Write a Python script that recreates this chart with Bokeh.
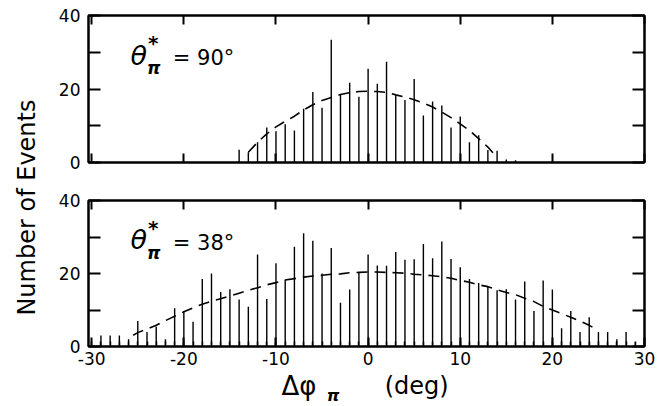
import numpy as np
from bokeh.plotting import figure
from bokeh.layouts import row, column
from bokeh.models import Label, FixedTicker, LinearAxis
from bokeh.embed import file_html
from bokeh.resources import INLINE

# ---------------- data ----------------
angles_90 = list(range(-14, 17))
counts_90 = [3.5, 2.8, 5.5, 9.5, 8.5, 10.4, 8.7, 14.6, 19.2, 14.9, 33.4, 18.5, 21.7, 17.9,
             25.5, 21.4, 27.4, 18.2, 17.0, 22.7, 12.8, 16.6, 15.5, 9.5, 12.5, 5.5, 7.4,
             3.4, 3.2, 0.8, 0.6]
fit_x_90 = [-13, -12, -11, -10, -9, -8, -7, -6, -5, -4, -3, -2, -1, 0, 1, 2, 3, 4, 5, 6,
            7, 8, 9, 10, 11, 12, 13, 14]
fit_y_90 = [2.8, 5.5, 7.8, 9.7, 11.2, 12.6, 14.3, 15.7, 16.9, 17.7, 18.5, 19.0, 19.3, 19.4,
            19.3, 19.1, 18.4, 17.8, 17.1, 16.2, 15.1, 13.7, 12.2, 10.5, 8.7, 6.5, 4.2, 1.4]

angles_38 = list(range(-29, 30))
counts_38 = [3, 3, 3, 2, 7, 4, 5.5, 2, 10.5, 9.7, 6.8, 18.5, 20, 14.9, 15.7, 12.9, 10.9,
             25.2, 13, 22.8, 18.3, 27.3, 31, 29, 20, 27, 12, 15.6, 20.4, 25.2, 22.2, 22.1,
             25.9, 23.8, 23.9, 28.1, 24.2, 28.8, 24, 21.7, 18.5, 17.4, 16.4, 15.4, 15.7,
             12.9, 17.8, 9.7, 18.1, 15.6, 5, 9.7, 4, 8, 4, 4, 2, 4, 1.2]
fit_x_38 = [-25.5, -25, -24, -23, -22, -21, -20, -19, -18, -17, -16, -15, -14, -13, -12,
            -11, -10, -9, -8, -7, -6, -5, -4, -3, -2, -1, 0, 1, 2, 3, 4, 5, 6, 7, 8, 9,
            10, 11, 12, 13, 14, 15, 16, 17, 18, 19, 20, 21, 22, 23, 24, 24.5]
fit_y_38 = [3.1, 3.8, 4.8, 5.8, 7.1, 8.3, 9.5, 10.6, 11.6, 12.4, 13.1, 13.8, 14.6, 15.4,
            16.1, 16.9, 17.5, 18.2, 18.6, 19.0, 19.3, 19.5, 19.8, 19.9, 20.2, 20.3, 20.4,
            20.4, 20.3, 20.2, 20.1, 19.8, 19.6, 19.4, 19.1, 18.7, 18.1, 17.6, 16.9, 16.4,
            15.5, 14.8, 14.2, 13.2, 12.3, 11.0, 10.0, 9.0, 8.0, 7.0, 5.8, 5.1]

x_ticks = [-30, -20, -10, 0, 10, 20, 30]
x_minor = list(range(-30, 31))
y_ticks = [0, 10, 20, 30, 40]
y_tick_labels = {0: "0", 10: "", 20: "20", 30: "", 40: "40"}

FONT = "DejaVu Sans"
X_RANGE = (-30.35, 30.0)
PW = 620          # panel canvas width
BL, BR = 44, 20   # left / right borders of the panels


def blank(ticks):
    return {t: "" for t in ticks}


def style_axis(ax, ticks, tick_len, labels=None):
    ax.ticker = FixedTicker(ticks=ticks)
    ax.major_tick_in = tick_len
    ax.major_tick_out = 0
    ax.minor_tick_in = 0
    ax.minor_tick_out = 0
    ax.axis_line_width = 2
    ax.axis_line_color = "black"
    ax.major_tick_line_width = 2
    ax.major_label_text_font = FONT
    ax.major_label_text_font_size = "17px"
    ax.major_label_text_color = "black"
    ax.major_label_overrides = labels if labels is not None else blank(ticks)


def panel(height, top, bottom, angles, counts, fx, fy, bottom_panel):
    p = figure(width=PW, height=height, x_range=X_RANGE, y_range=(0, 40),
               output_backend="svg", toolbar_location=None,
               min_border_left=BL, min_border_right=BR,
               min_border_top=top, min_border_bottom=bottom)
    above = LinearAxis()
    right = LinearAxis()
    p.add_layout(above, "above")
    p.add_layout(right, "right")
    style_axis(above, x_ticks, 9)
    style_axis(right, y_ticks, 12)
    style_axis(p.left[0], y_ticks, 12, y_tick_labels)
    p.left[0].major_label_standoff = 8
    below = p.below[0]
    if bottom_panel:
        style_axis(below, x_ticks, 9, {t: str(t) for t in x_ticks})
        below.ticker = FixedTicker(ticks=x_ticks, minor_ticks=x_minor)
        below.minor_tick_in = 5
        below.minor_tick_out = 0
        below.minor_tick_line_width = 1.5
        below.minor_tick_line_color = "black"
        below.major_label_standoff = 5
    else:
        style_axis(below, x_ticks, 9)
    p.outline_line_color = "black"
    p.outline_line_width = 2
    p.grid.visible = False
    p.segment(x0=angles, y0=[0] * len(angles), x1=angles, y1=counts,
              line_color="black", line_width=1.4)
    p.line(fx, fy, line_color="black", line_width=1.6, line_dash="11 7")
    return p


p1 = panel(183, 15, 21, angles_90, counts_90, fit_x_90, fit_y_90, False)
p2 = panel(185, 17, 22, angles_38, counts_38, fit_x_38, fit_y_38, True)


def theta_label(p, x, y, deg_text):
    p.add_layout(Label(x=x, y=y, text="θ", text_font=FONT, text_font_style="italic",
                       text_font_size="27px", text_baseline="middle", text_color="black"))
    p.add_layout(Label(x=x + 1.9, y=y + 3.3, text="*", text_font=FONT,
                       text_font_style="bold", text_font_size="20px",
                       text_baseline="middle", text_color="black"))
    p.add_layout(Label(x=x + 1.8, y=y - 3.6, text="π", text_font=FONT,
                       text_font_style="bold italic", text_font_size="17px",
                       text_baseline="middle", text_color="black"))
    p.add_layout(Label(x=x + 4.6, y=y - 0.9, text=deg_text, text_font=FONT,
                       text_font_size="21px", text_baseline="middle", text_color="black"))


theta_label(p1, -25.8, 29.2, "= 90°")
theta_label(p2, -25.8, 29.3, "= 38°")

# x axis title (its own strip under the lower panel)
xlab = figure(width=PW, height=38, x_range=X_RANGE, y_range=(0, 1),
              x_axis_type=None, y_axis_type=None,
              output_backend="svg", toolbar_location=None,
              min_border_left=BL, min_border_right=BR, min_border_top=0, min_border_bottom=0)
xlab.grid.visible = False
xlab.outline_line_color = None
xlab.add_layout(Label(x=-9.4, y=0.55, text="Δφ", text_font=FONT, text_font_size="26px",
                      text_baseline="middle", text_color="black"))
xlab.add_layout(Label(x=-4.5, y=0.3, text="π", text_font=FONT,
                      text_font_style="bold italic", text_font_size="16px",
                      text_baseline="middle", text_color="black"))
xlab.add_layout(Label(x=1.8, y=0.55, text="(deg)", text_font=FONT, text_font_size="24px",
                      text_baseline="middle", text_color="black"))

# y axis title, spanning both panels
ylab = figure(width=44, height=406, x_range=(0, 1), y_range=(0, 1),
              x_axis_type=None, y_axis_type=None,
              output_backend="svg", toolbar_location=None, min_border=0)
ylab.grid.visible = False
ylab.outline_line_color = None
ylab.add_layout(Label(x=0.6, y=0.49, text="Number of Events", angle=np.pi / 2,
                      text_font=FONT, text_font_size="24px", text_align="center",
                      text_baseline="middle", text_color="black"))

layout = row(ylab, column(p1, p2, xlab))
open("out.html", "w").write(file_html(layout, INLINE))
